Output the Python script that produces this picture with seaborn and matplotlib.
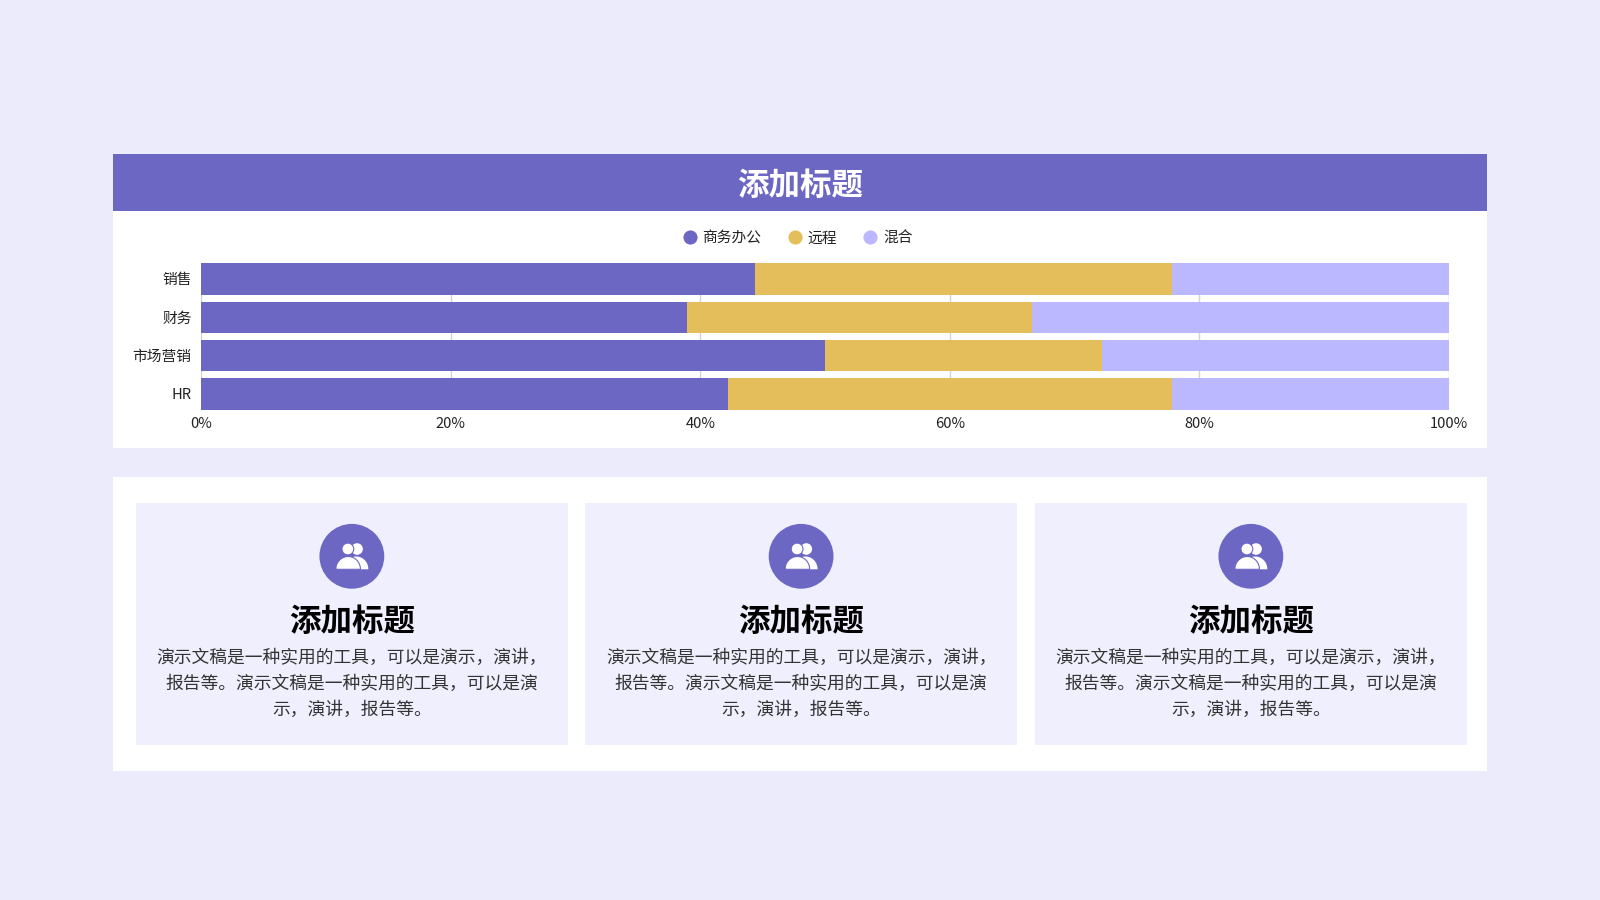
import numpy as np
import pandas as pd
import matplotlib
matplotlib.use("Agg")
import matplotlib.pyplot as plt
from matplotlib.lines import Line2D
from matplotlib.patches import Rectangle, Circle, Polygon
import seaborn as sns

departments = ["销售", "财务", "市场营销", "HR"]
series_names = ["商务办公", "远程", "混合"]
office = [44.4, 38.9, 50.0, 42.2]
remote = [33.4, 27.7, 22.2, 35.6]
hybrid = [22.2, 33.4, 27.8, 22.2]
x_ticks = [0, 20, 40, 60, 80, 100]
panel_title = "添加标题"
card_lines = ["演示文稿是一种实用的工具，可以是演示，演讲，",
              "报告等。演示文稿是一种实用的工具，可以是演",
              "示，演讲，报告等。"]

BG = "#ECEBFC"
CARD = "#F0EFFE"
PURPLE = "#6D67C4"
YELLOW = "#E4BE5A"
LILAC = "#BCB8FF"
FONT = ["Noto Sans CJK SC", "DejaVu Sans"]

sns.set_theme(style="white")
plt.rcParams["font.family"] = FONT
plt.rcParams["axes.unicode_minus"] = False

fig = plt.figure(figsize=(16, 9), dpi=100, facecolor=BG)

# Page layout layer in pixel coordinates
page = fig.add_axes([0, 0, 1, 1], zorder=0)
page.set_xlim(0, 1600)
page.set_ylim(900, 0)
page.axis("off")


def box(x0, y0, x1, y1, color):
    page.add_patch(Rectangle((x0, y0), x1 - x0, y1 - y0, fc=color, ec="none"))


box(113, 210, 1487, 448, "white")
box(113, 153.7, 1487, 211, PURPLE)
box(113, 477.2, 1487, 771, "white")
page.text(800, 186, panel_title, color="white", fontsize=22.7, fontweight="bold",
          ha="center", va="center")


def half_dome(x0, x1, top, bottom, **kw):
    t = np.linspace(np.pi, 0, 60)
    cx, rx = (x0 + x1) / 2, (x1 - x0) / 2
    xs = cx + rx * np.cos(t)
    ys = bottom - (bottom - top) * np.sin(t)
    page.add_patch(Polygon(np.column_stack([xs, ys]), closed=True, **kw))


def icon(cx, cy):
    page.add_patch(Circle((cx, cy), 32.4, fc=PURPLE, ec="none"))
    ox, oy = cx - 351.7, cy - 556.3
    page.add_patch(Circle((356.9 + ox, 549 + oy), 5.8, fc="white", ec="none"))
    half_dome(344 + ox, 368.2 + ox, 556.5 + oy, 569.3 + oy, fc="white", ec="none")
    half_dome(335.7 + ox, 360.3 + ox, 556.5 + oy, 569.3 + oy, fc="white", ec=PURPLE, lw=0.8)
    page.add_patch(Circle((347.7 + ox, 549 + oy), 5.9, fc="white", ec=PURPLE, lw=0.8))


for left, right in [(135.7, 568), (585, 1017.2), (1034.7, 1467)]:
    mid = (left + right) / 2
    box(left, 502.7, right, 745, CARD)
    icon(mid, 556.3)
    page.text(mid, 621.5, panel_title, color="black", fontsize=22.7, fontweight="bold",
              ha="center", va="center")
    for line, y in zip(card_lines, [658, 684, 710]):
        page.text(mid, y, line, color="#333333", fontsize=12.8, ha="center", va="center")

# Chart
ax = fig.add_axes([201.3 / 1600, 1 - 409.5 / 900, 1247.7 / 1600, 146.2 / 900], zorder=1)
ax.patch.set_alpha(0)
df = pd.DataFrame({"部门": departments, series_names[0]: office,
                   series_names[1]: remote, series_names[2]: hybrid})
left_edge = np.zeros(len(departments))
for name, color in zip(series_names, [PURPLE, YELLOW, LILAC]):
    sns.barplot(data=df, y="部门", x=name, order=departments, orient="y", color=color,
                saturation=1, width=0.82, left=left_edge, linewidth=0, ax=ax, zorder=3)
    left_edge = left_edge + df[name].to_numpy()

ax.set_xlim(0, 100)
ax.set_ylim(3.41, -0.41)
ax.set_xlabel("")
ax.set_ylabel("")
ax.set_xticks(x_ticks)
ax.set_xticklabels([f"{v}%" for v in x_ticks])
ax.grid(axis="x", color="#D2D2D2", lw=1, zorder=0)
ax.grid(axis="y", visible=False)
ax.set_axisbelow(True)
sns.despine(ax=ax, left=True, bottom=True)
ax.tick_params(axis="both", length=0, labelsize=10.6, labelcolor="#222222")
ax.tick_params(axis="y", pad=7)
ax.tick_params(axis="x", pad=5.7)

handles = [Line2D([], [], marker="o", ls="none", ms=10.2, mfc=c, mec="none")
           for c in [PURPLE, YELLOW, LILAC]]
fig.legend(handles, series_names, loc="center", bbox_to_anchor=(797.5 / 1600, 1 - 238.5 / 900),
           ncol=3, frameon=False, fontsize=10.6, handletextpad=0.38, columnspacing=1.75,
           labelcolor="#222222", handlelength=1.0, borderpad=0)

fig.savefig("out.png", dpi=100, facecolor=BG)
